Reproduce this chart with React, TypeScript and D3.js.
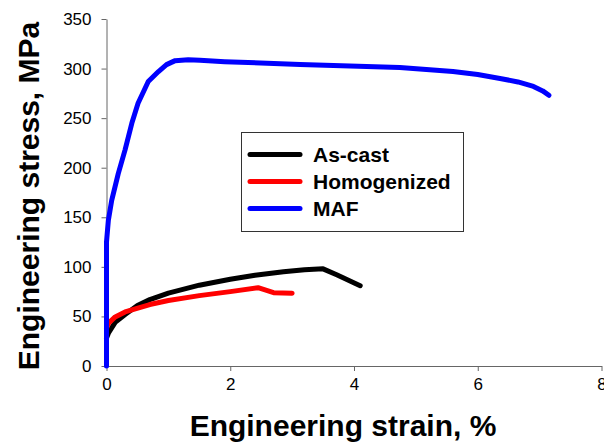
import { useEffect, useRef } from 'react';
import * as d3 from 'd3';

// strain (%) / stress (MPa)
const asCastStrain = [0, 0.03, 0.14, 0.3, 0.5, 0.7, 1.0, 1.5, 2.0, 2.4, 2.86, 3.2, 3.5, 3.72, 4.1];
const asCastStress = [28, 33, 44, 52, 61, 67, 73.5, 81.5, 87.5, 91.5, 95, 97, 98, 92, 81];

const homogStrain = [0, 0.03, 0.14, 0.3, 0.7, 1.0, 1.5, 2.0, 2.45, 2.7, 3.0];
const homogStress = [38, 43, 49.5, 54.5, 62, 66, 71, 75, 79, 74, 73.5];

const mafStrain = [0, 0, 0.03, 0.084, 0.19, 0.3, 0.41, 0.51, 0.675, 0.84, 0.97, 1.11, 1.32, 1.51, 1.91, 3.13, 4.74, 5.6, 6.0, 6.36, 6.65, 6.9, 7.05, 7.15];
const mafStress = [0, 125, 147, 167, 194, 218, 245, 265, 287, 297, 304, 308, 309, 308.5, 307, 304, 301, 297, 294, 290, 286.5, 282, 277.5, 273];

const seriesNames = ['As-cast', 'Homogenized', 'MAF'];
const seriesColors = ['#000000', '#ff0000', '#0000ff'];

const xTicks = [0, 2, 4, 6, 8];
const yTicks = [0, 50, 100, 150, 200, 250, 300, 350];

const font = '"Liberation Sans", Arial, sans-serif';

const App = () => {
  const svgRef = useRef<SVGSVGElement>(null);

  useEffect(() => {
    const svg = d3.select(svgRef.current);
    svg.selectAll('*').remove();

    const x = d3.scaleLinear().domain([0, 8]).range([106.5, 601.5]);
    const y = d3.scaleLinear().domain([0, 350]).range([366, 19]);

    // axes
    const xAxis = svg
      .append('g')
      .attr('transform', `translate(0,${y(0)})`)
      .call(d3.axisBottom(x).tickValues(xTicks).tickSize(5).tickSizeOuter(0).tickPadding(7));
    const yAxis = svg
      .append('g')
      .attr('transform', `translate(${x(0)},0)`)
      .call(d3.axisLeft(y).tickValues(yTicks).tickSize(5).tickSizeOuter(0).tickPadding(10));

    [xAxis, yAxis].forEach(a => {
      a.select('.domain').attr('stroke', '#666');
      a.selectAll('.tick line').attr('stroke', '#666');
      a.selectAll('.tick text')
        .style('font-family', font)
        .style('font-size', '17px')
        .attr('fill', '#000');
    });

    // curves
    const line = d3
      .line<[number, number]>()
      .x(d => x(d[0]))
      .y(d => y(d[1]));

    const series = [
      d3.zip(asCastStrain, asCastStress),
      d3.zip(homogStrain, homogStress),
      d3.zip(mafStrain, mafStress),
    ];

    series.forEach((s, i) => {
      svg
        .append('path')
        .attr('d', line(s as [number, number][]))
        .attr('fill', 'none')
        .attr('stroke', seriesColors[i])
        .attr('stroke-width', 5)
        .attr('stroke-linejoin', 'round')
        .attr('stroke-linecap', 'round');
    });

    // legend
    const legend = svg.append('g').attr('transform', 'translate(241,132)');
    legend
      .append('rect')
      .attr('x', 0.5)
      .attr('y', 0.5)
      .attr('width', 222)
      .attr('height', 99)
      .attr('fill', '#fff')
      .attr('stroke', '#333')
      .attr('stroke-width', 1);

    seriesNames.forEach((name, i) => {
      const row = legend.append('g').attr('transform', `translate(0,${22.5 + i * 27})`);
      row
        .append('line')
        .attr('x1', 9)
        .attr('x2', 59)
        .attr('stroke', seriesColors[i])
        .attr('stroke-width', 5)
        .attr('stroke-linecap', 'round');
      row
        .append('text')
        .attr('x', 72)
        .attr('dy', '0.36em')
        .style('font-family', font)
        .style('font-size', '21px')
        .style('font-weight', 'bold')
        .text(name);
    });

    // axis titles
    svg
      .append('text')
      .attr('x', 343)
      .attr('y', 436)
      .attr('text-anchor', 'middle')
      .style('font-family', font)
      .style('font-size', '30px')
      .style('font-weight', 'bold')
      .text('Engineering strain, %');

    svg
      .append('text')
      .attr('transform', 'translate(39,196) rotate(-90)')
      .attr('text-anchor', 'middle')
      .style('font-family', font)
      .style('font-size', '30px')
      .style('font-weight', 'bold')
      .text('Engineering stress, MPa');
  }, []);

  return (
    <div style={{ position: 'absolute', left: 0, top: 0 }}>
      <svg ref={svgRef} width={604} height={445} style={{ display: 'block', background: '#fff' }}></svg>
    </div>
  );
};

export default App;
